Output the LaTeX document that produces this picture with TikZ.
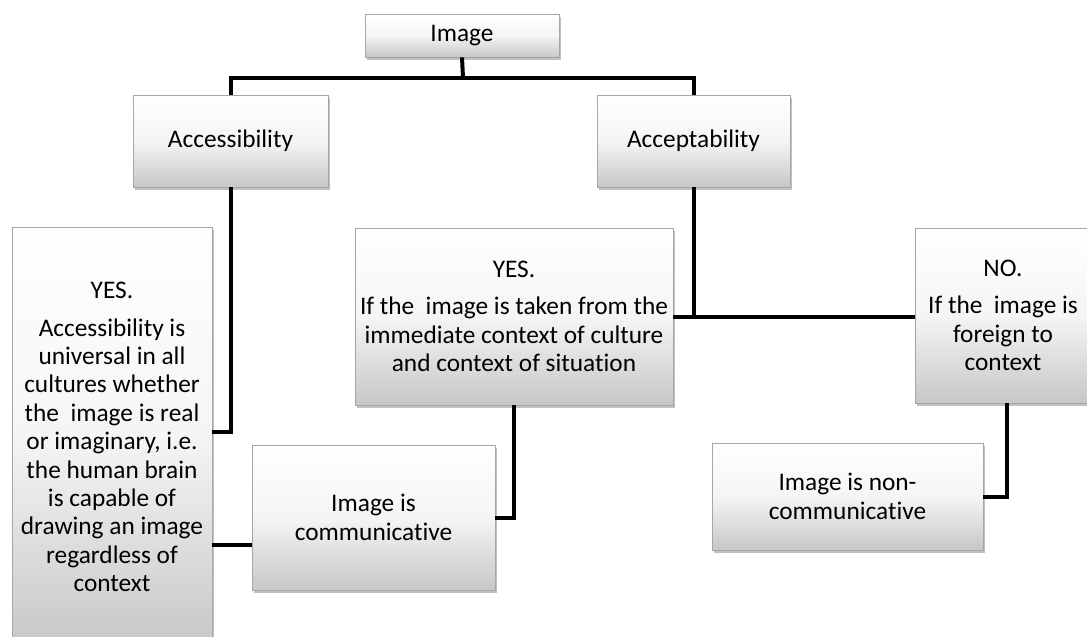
\documentclass[tikz,border=0pt]{standalone}
\usepackage{fontspec}
\setmainfont{Carlito}[RawFeature=-liga]
\usetikzlibrary{shadows}
\begin{document}
\begin{tikzpicture}[x=0.75pt,y=-0.75pt,
  box/.style={draw=black!35, line width=0.6pt, top color=white, bottom color=black!22, middle color=white!96!black,
    drop shadow={shadow xshift=1.5pt, shadow yshift=-2.2pt, opacity=0.35, fill=black!70},
    align=center, inner sep=0pt, text=black,
    font=\fontsize{19pt}{21.3pt}\selectfont},
  sz/.style 2 args={minimum width=#1*0.75pt, minimum height=#2*0.75pt},
  link/.style={line width=3pt, black}]
\useasboundingbox (0,0) rectangle (1087,636);

\node[box, sz={194}{43}] (img) at (462,35.5) {Image};
\node[box, sz={195}{92}] (acc) at (230.5,141) {Accessibility};
\node[box, sz={193}{92}] (acp) at (693.5,141) {Acceptability};
\node[box, sz={200}{420}] (tall) at (112,437) {YES.\\[6.75pt]Accessibility is\\universal in all\\cultures whether\\the\ \ image is real\\or imaginary, i.e.\\the human brain\\is capable of\\drawing an image\\regardless of\\context};
\node[box, sz={318}{177}] (mid) at (514,316.5) {YES.\\[6.75pt]If the\ \ image is taken from the\\immediate context of culture\\and context of situation};
\node[box, sz={176}{175}] (no) at (1003,315.5) {NO.\\[6.75pt]If the\ \ image is\\foreign to\\context};
\node[box, sz={243}{145}] (comm) at (373.5,517.5) {Image is\\communicative};
\node[box, sz={271}{107}] (nc) at (847.5,496.5) {Image is non-\\communicative};

\coordinate (bus) at (463,78);
\draw[link] (img.south) -- (bus);
\draw[link] (acc.north) |- (bus) -| (acp.north);
\draw[link] (acc.south) |- (tall.east |- 0,432);
\draw[link] (tall.east |- 0,545) -- (comm.west |- 0,545);
\draw[link] (mid.south) |- (comm.east);
\draw[link] (mid.east) -- (no.west |- mid.east);
\draw[link] (acp.south) -- (acp.south |- mid.east);
\draw[link] ([xshift=3pt]no.south) |- (nc.east);
\end{tikzpicture}
\end{document}
